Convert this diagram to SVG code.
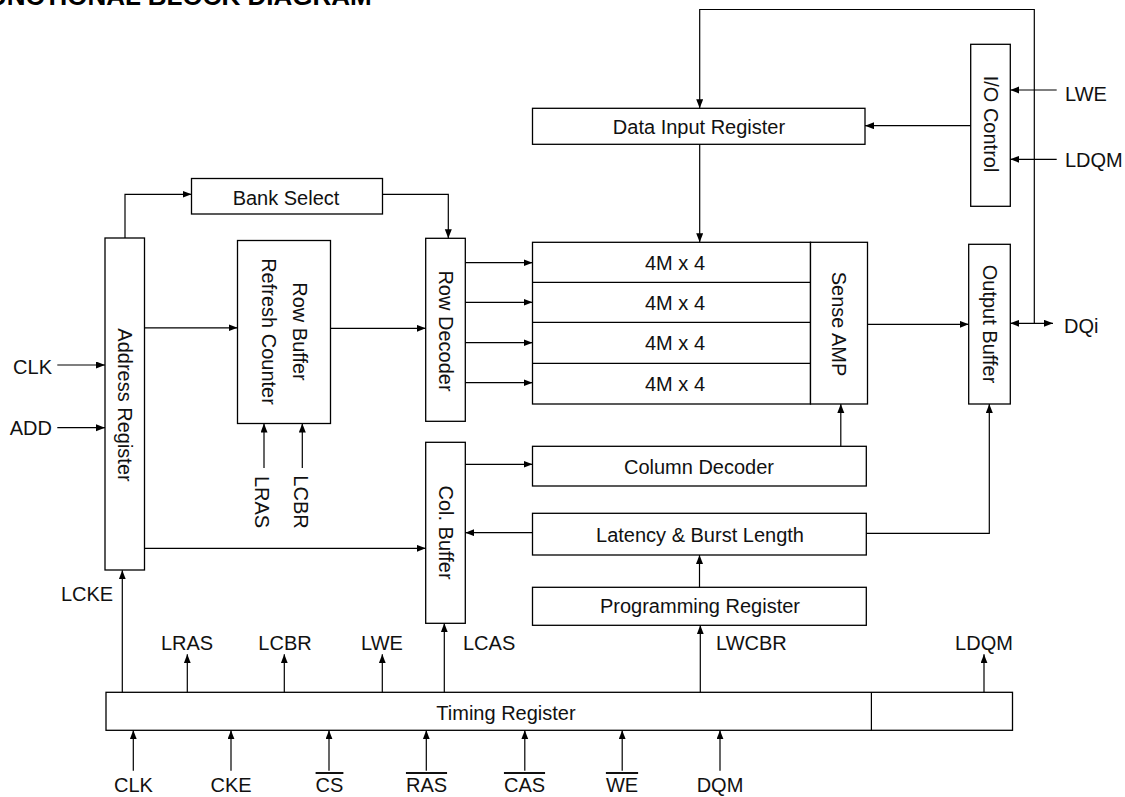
<svg xmlns="http://www.w3.org/2000/svg" width="1125" height="797" viewBox="0 0 1125 797">
<style>
text{font-family:"Liberation Sans",Arial,Helvetica,sans-serif;font-size:20px;fill:#111}
.c{text-anchor:middle}
.e{text-anchor:end}
.box{fill:#fff;stroke:#000;stroke-width:1.3}
.ln{fill:none;stroke:#000;stroke-width:1.2}
.title{font-weight:bold;font-size:26px;fill:#000}
.ov{text-decoration:overline}
</style>
<defs>
<marker id="ah" markerUnits="userSpaceOnUse" markerWidth="10" markerHeight="8" refX="9" refY="3.5" orient="auto-start-reverse">
<path d="M0,0 L9,3.5 L0,7 z" fill="#000"/>
</marker>
</defs>

<text class="title" x="-28" y="5">FUNCTIONAL BLOCK DIAGRAM</text>

<g id="address-register">
<rect class="box" x="105" y="238" width="39.5" height="332"/>
<text class="c" transform="translate(125,405) rotate(90)" y="7">Address Register</text>
</g>
<g id="bank-select">
<rect class="box" x="191.5" y="178.5" width="191" height="35.5"/>
<text class="c" x="286" y="204.5">Bank Select</text>
</g>
<g id="row-buffer">
<rect class="box" x="237.5" y="240.5" width="93" height="183"/>
<text class="c" transform="translate(283.5,331.5) rotate(90)"><tspan x="0" y="-9.5">Row Buffer</tspan><tspan x="0" y="22">Refresh Counter</tspan></text>
</g>
<g id="row-decoder">
<rect class="box" x="425.7" y="238.3" width="39.6" height="183"/>
<text class="c" transform="translate(445.5,331) rotate(90)" y="7">Row Decoder</text>
</g>
<g id="data-input-register">
<rect class="box" x="532.5" y="108.3" width="332.5" height="36"/>
<text class="c" x="699" y="134">Data Input Register</text>
</g>
<g id="io-control">
<rect class="box" x="970.7" y="44.3" width="39.6" height="162"/>
<text class="c" transform="translate(990.5,124) rotate(90)" y="7">I/O Control</text>
</g>
<g id="memory-array">
<rect class="box" x="532.5" y="242.3" width="278" height="161.7"/>
<line class="ln" x1="532.5" y1="282.3" x2="810.5" y2="282.3"/>
<line class="ln" x1="532.5" y1="322.3" x2="810.5" y2="322.3"/>
<line class="ln" x1="532.5" y1="363.3" x2="810.5" y2="363.3"/>
<text class="c" x="675" y="269.5">4M x 4</text>
<text class="c" x="675" y="309.5">4M x 4</text>
<text class="c" x="675" y="350">4M x 4</text>
<text class="c" x="675" y="391">4M x 4</text>
</g>
<g id="sense-amp">
<rect class="box" x="810.5" y="242.3" width="57" height="161.7"/>
<text class="c" transform="translate(839,324) rotate(90)" y="7">Sense AMP</text>
</g>
<g id="output-buffer">
<rect class="box" x="968.7" y="244.3" width="41.6" height="159.7"/>
<text class="c" transform="translate(989.5,324) rotate(90)" y="7">Output Buffer</text>
</g>
<g id="col-buffer">
<rect class="box" x="425.7" y="442.3" width="39.6" height="181"/>
<text class="c" transform="translate(445.5,532.5) rotate(90)" y="7">Col. Buffer</text>
</g>
<g id="column-decoder">
<rect class="box" x="532.5" y="446.3" width="333.8" height="39.7"/>
<text class="c" x="699" y="474">Column Decoder</text>
</g>
<g id="latency-burst">
<rect class="box" x="532.5" y="513.3" width="333.8" height="41.7"/>
<text class="c" x="700" y="541.5">Latency &amp; Burst Length</text>
</g>
<g id="programming-register">
<rect class="box" x="532.5" y="587.3" width="333.8" height="38"/>
<text class="c" x="700" y="613">Programming Register</text>
</g>
<g id="timing-register">
<rect class="box" x="106" y="692.3" width="906.5" height="38"/>
<line class="ln" x1="871.4" y1="692.3" x2="871.4" y2="730.3"/>
<text class="c" x="506" y="720">Timing Register</text>
</g>

<g id="labels">
<text class="e" x="52" y="374">CLK</text>
<text class="e" x="52" y="434.5">ADD</text>
<text class="c" transform="translate(262,502) rotate(90)" y="7">LRAS</text>
<text class="c" transform="translate(301,502) rotate(90)" y="7">LCBR</text>
<text x="1065" y="101">LWE</text>
<text x="1065" y="167">LDQM</text>
<text x="1064" y="333">DQi</text>
<text class="c" x="87" y="601">LCKE</text>
<text class="c" x="187" y="650">LRAS</text>
<text class="c" x="285" y="650">LCBR</text>
<text class="c" x="382" y="650">LWE</text>
<text x="463" y="650">LCAS</text>
<text x="716" y="650">LWCBR</text>
<text class="c" x="984" y="650">LDQM</text>
<text class="c" x="133.5" y="792">CLK</text>
<text class="c" x="231" y="792">CKE</text>
<text class="c ov" x="329.5" y="792">CS</text>
<text class="c ov" x="426.5" y="792">RAS</text>
<text class="c ov" x="524.5" y="792">CAS</text>
<text class="c ov" x="622" y="792">WE</text>
<text class="c" x="720" y="792">DQM</text>
</g>

<g id="connectors" class="ln">
<path class="ln" d="M125,238 V194.3 H191.5" marker-end="url(#ah)"/>
<path class="ln" d="M382.5,194.3 H448.3 V238.3" marker-end="url(#ah)"/>
<path class="ln" d="M144.5,327.8 H237.5" marker-end="url(#ah)"/>
<path class="ln" d="M330.5,328.3 H425.7" marker-end="url(#ah)"/>
<path class="ln" d="M465.3,262.7 H532.5" marker-end="url(#ah)"/>
<path class="ln" d="M465.3,302.3 H532.5" marker-end="url(#ah)"/>
<path class="ln" d="M465.3,342.7 H532.5" marker-end="url(#ah)"/>
<path class="ln" d="M465.3,382.7 H532.5" marker-end="url(#ah)"/>
<path class="ln" d="M57.3,365 H105" marker-end="url(#ah)"/>
<path class="ln" d="M57.3,427.7 H105" marker-end="url(#ah)"/>
<path class="ln" d="M264,468 V423.5" marker-end="url(#ah)"/>
<path class="ln" d="M302.3,468 V423.5" marker-end="url(#ah)"/>
<path class="ln" d="M1034.3,323.3 V9.5 H699.7 V108.3" marker-end="url(#ah)"/>
<path class="ln" d="M970.7,125.7 H865" marker-end="url(#ah)"/>
<path class="ln" d="M1056.7,90 H1010.3" marker-end="url(#ah)"/>
<path class="ln" d="M1056.7,159.3 H1010.3" marker-end="url(#ah)"/>
<path class="ln" d="M699.7,144.3 V242.3" marker-end="url(#ah)"/>
<path class="ln" d="M867.5,324.3 H968.7" marker-end="url(#ah)"/>
<path class="ln" d="M1010.3,323.3 H1053" marker-start="url(#ah)" marker-end="url(#ah)"/>
<path class="ln" d="M465.3,464.3 H532.5" marker-end="url(#ah)"/>
<path class="ln" d="M840.8,446.3 V404" marker-end="url(#ah)"/>
<path class="ln" d="M532.5,532.7 H465.3" marker-end="url(#ah)"/>
<path class="ln" d="M866.3,533.3 H989.3 V404" marker-end="url(#ah)"/>
<path class="ln" d="M699.5,587.3 V555" marker-end="url(#ah)"/>
<path class="ln" d="M700.3,692.3 V625.3" marker-end="url(#ah)"/>
<path class="ln" d="M144.5,548.3 H425.7" marker-end="url(#ah)"/>
<path class="ln" d="M122.3,692.3 V570.3" marker-end="url(#ah)"/>
<path class="ln" d="M187.3,692.3 V654.3" marker-end="url(#ah)"/>
<path class="ln" d="M284.3,692.3 V654.3" marker-end="url(#ah)"/>
<path class="ln" d="M382.3,692.3 V654.3" marker-end="url(#ah)"/>
<path class="ln" d="M444.3,692.3 V623.3" marker-end="url(#ah)"/>
<path class="ln" d="M984,692.3 V654.3" marker-end="url(#ah)"/>
<path class="ln" d="M133.3,770.7 V730.3" marker-end="url(#ah)"/>
<path class="ln" d="M231,770.7 V730.3" marker-end="url(#ah)"/>
<path class="ln" d="M329,770.7 V730.3" marker-end="url(#ah)"/>
<path class="ln" d="M426.3,770.7 V730.3" marker-end="url(#ah)"/>
<path class="ln" d="M524.8,770.7 V730.3" marker-end="url(#ah)"/>
<path class="ln" d="M622.2,770.7 V730.3" marker-end="url(#ah)"/>
<path class="ln" d="M720,770.7 V730.3" marker-end="url(#ah)"/>
</g>
</svg>
